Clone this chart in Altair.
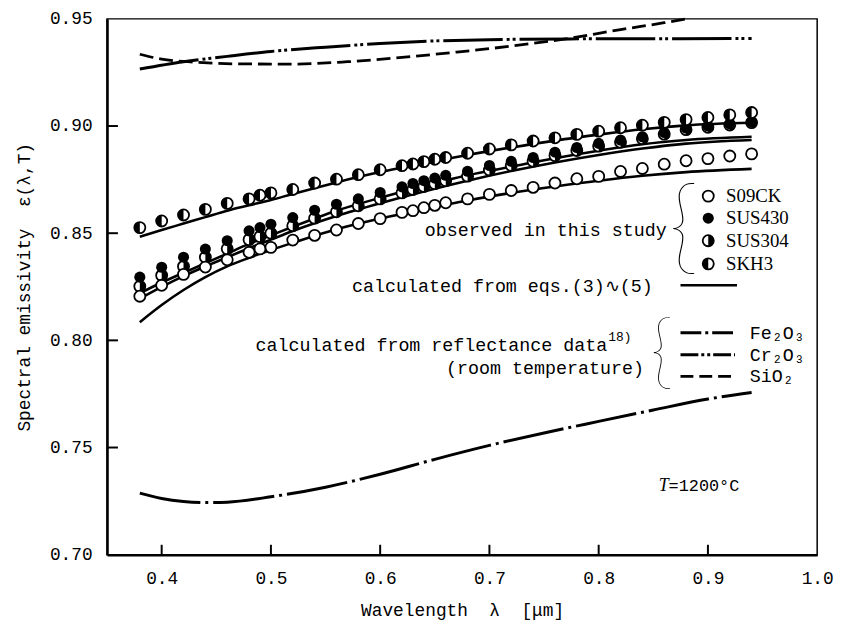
import altair as alt
import pandas as pd

# ---------------- data ----------------
lam = [0.38, 0.40, 0.42, 0.44, 0.46, 0.48, 0.49, 0.50, 0.52, 0.54, 0.56, 0.58, 0.60, 0.62, 0.63, 0.64,
       0.65, 0.66, 0.68, 0.70, 0.72, 0.74, 0.76, 0.78, 0.80, 0.82, 0.84, 0.86, 0.88, 0.90, 0.92, 0.94]
s09ck = [0.8206, 0.8257, 0.8308, 0.8342, 0.8376, 0.8411, 0.8427, 0.8434, 0.8468, 0.8490, 0.8515, 0.8545,
         0.8568, 0.8597, 0.8605, 0.8619, 0.8630, 0.8642, 0.8660, 0.8681, 0.8699, 0.8714, 0.8734, 0.8754,
         0.8765, 0.8788, 0.8802, 0.8822, 0.8838, 0.8848, 0.8860, 0.8870]
sus430 = [0.8295, 0.8341, 0.8388, 0.8426, 0.8465, 0.8511, 0.8526, 0.8542, 0.8573, 0.8607, 0.8635, 0.8660,
          0.8690, 0.8716, 0.8732, 0.8745, 0.8757, 0.8770, 0.8789, 0.8816, 0.8835, 0.8853, 0.8878, 0.8900,
          0.8919, 0.8935, 0.8950, 0.8970, 0.8990, 0.9000, 0.9010, 0.9020]
sus304 = [0.8252, 0.8303, 0.8345, 0.8388, 0.8427, 0.8470, 0.8484, 0.8500, 0.8535, 0.8570, 0.8600, 0.8628,
          0.8660, 0.8688, 0.8704, 0.8718, 0.8731, 0.8745, 0.8766, 0.8795, 0.8816, 0.8836, 0.8862, 0.8886,
          0.8906, 0.8924, 0.8941, 0.8962, 0.8983, 0.8994, 0.9005, 0.9016]
skh3 = [0.8526, 0.8557, 0.8585, 0.8611, 0.8639, 0.8660, 0.8677, 0.8688, 0.8704, 0.8734, 0.8752, 0.8773,
        0.8796, 0.8815, 0.8823, 0.8834, 0.8845, 0.8853, 0.8873, 0.8893, 0.8912, 0.8930, 0.8945, 0.8961,
        0.8976, 0.8992, 0.9004, 0.9017, 0.9030, 0.9040, 0.9052, 0.9063]

calc_lam = [0.38, 0.40, 0.42, 0.44, 0.46, 0.48, 0.50, 0.52, 0.56, 0.60, 0.64, 0.68, 0.72, 0.76, 0.80, 0.84, 0.88, 0.94]
calc_skh3 = [0.8483, 0.8515, 0.8545, 0.8575, 0.8605, 0.8630, 0.8655, 0.8683, 0.8737, 0.8785, 0.8825, 0.8865,
             0.8900, 0.8932, 0.8960, 0.8985, 0.9003, 0.9015]
calc_sus430 = [0.8220, 0.8270, 0.8315, 0.8360, 0.8405, 0.8450, 0.8490, 0.8530, 0.8605, 0.8665, 0.8720, 0.8770,
               0.8810, 0.8850, 0.8885, 0.8915, 0.8935, 0.8950]
calc_sus304 = [0.8195, 0.8250, 0.8300, 0.8345, 0.8388, 0.8430, 0.8470, 0.8510, 0.8580, 0.8640, 0.8695, 0.8745,
               0.8790, 0.8830, 0.8865, 0.8895, 0.8918, 0.8935]
calc_s09ck = [0.8085, 0.8165, 0.8235, 0.8295, 0.8345, 0.8385, 0.8422, 0.8455, 0.8518, 0.8568, 0.8612, 0.8653,
              0.8688, 0.8718, 0.8745, 0.8768, 0.8785, 0.8800]

fe_lam = [0.38, 0.40, 0.42, 0.44, 0.46, 0.50, 0.55, 0.60, 0.65, 0.70, 0.75, 0.80, 0.85, 0.90, 0.94]
fe2o3 = [0.7287, 0.7262, 0.7248, 0.7243, 0.7245, 0.7270, 0.7315, 0.7375, 0.7445, 0.7510, 0.7568, 0.7622,
         0.7675, 0.7726, 0.7757]
cr_lam = [0.38, 0.42, 0.46, 0.50, 0.55, 0.60, 0.65, 0.70, 0.80, 0.94]
cr2o3 = [0.9266, 0.9300, 0.9325, 0.9348, 0.9368, 0.9385, 0.9397, 0.9403, 0.9407, 0.9408]
si_lam = [0.38, 0.40, 0.43, 0.47, 0.52, 0.57, 0.62, 0.67, 0.72, 0.77, 0.82, 0.86, 0.88]
sio2 = [0.9335, 0.9312, 0.9298, 0.9290, 0.9289, 0.9300, 0.9320, 0.9345, 0.9373, 0.9407, 0.9450, 0.9482, 0.9500]

x_ticks = [0.4, 0.5, 0.6, 0.7, 0.8, 0.9, 1.0]
y_ticks = [0.70, 0.75, 0.80, 0.85, 0.90, 0.95]

# ---------------- styling ----------------
W, H = 717, 541
MONO = "Liberation Mono"
SERIF = "Liberation Serif"
xs = alt.Scale(domain=[0.35, 1.0], nice=False, zero=False)
ys = alt.Scale(domain=[0.70, 0.95], nice=False, zero=False)
X_AXIS = alt.Axis(values=x_ticks, format=".1f", ticks=False, grid=False, labelFlush=False,
                  labelPadding=15, titlePadding=14)
Y_AXIS = alt.Axis(values=y_ticks, format=".2f", ticks=False, grid=False,
                  labelPadding=15, titlePadding=16)
X_TITLE = "Wavelength\u00a0\u00a0λ\u00a0\u00a0[μm]"
Y_TITLE = "Spectral emissivity\u00a0\u00a0ε(λ,T)"
LEFT_HALF = "M0,-1A1,1,0,0,0,0,1Z"
RIGHT_HALF = "M0,-1A1,1,0,0,1,0,1Z"
MS = 125


def X(f="x"):
    return alt.X(f"{f}:Q", scale=xs, axis=X_AXIS, title=X_TITLE)


def Y(f="y"):
    return alt.Y(f"{f}:Q", scale=ys, axis=Y_AXIS, title=Y_TITLE)


def frame(xv, yv):
    return pd.DataFrame({"x": xv, "y": yv})


layers = []

# inward ticks
layers.append(alt.Chart(pd.DataFrame({"x": x_ticks[:-1]})).mark_rule(color="black", strokeWidth=2).encode(
    x=X(), y=alt.value(H), y2=alt.value(H - 10)))
layers.append(alt.Chart(pd.DataFrame({"y": y_ticks[1:-1]})).mark_rule(color="black", strokeWidth=2).encode(
    y=Y(), x=alt.value(0), x2=alt.value(11)))

# calculated curves
for vals in [calc_skh3, calc_sus430, calc_sus304, calc_s09ck]:
    layers.append(alt.Chart(frame(calc_lam, vals)).mark_line(
        color="black", strokeWidth=2.6, interpolate="monotone").encode(x=X(), y=Y()))

# oxide curves
layers.append(alt.Chart(frame(fe_lam, fe2o3)).mark_line(
    color="black", strokeWidth=3, interpolate="monotone", strokeDash=[62, 5, 3, 5]).encode(x=X(), y=Y()))
layers.append(alt.Chart(frame(cr_lam, cr2o3)).mark_line(
    color="black", strokeWidth=3, interpolate="monotone", strokeDash=[60, 4, 3, 3, 3, 4]).encode(x=X(), y=Y()))
layers.append(alt.Chart(frame(si_lam, sio2)).mark_line(
    color="black", strokeWidth=2.8, interpolate="monotone", strokeDash=[14, 6]).encode(x=X(), y=Y()))


def open_pts(df):
    return alt.Chart(df).mark_point(shape="circle", filled=True, fill="white", stroke="black",
                                    strokeWidth=1.8, size=MS, opacity=1).encode(x=X(), y=Y())


def full_pts(df):
    return alt.Chart(df).mark_point(shape="circle", filled=True, color="black", size=MS,
                                    opacity=1).encode(x=X(), y=Y())


def half_pts(df, path):
    return alt.Chart(df).mark_point(shape=path, filled=True, color="black", size=MS,
                                    opacity=1, strokeWidth=0).encode(x=X(), y=Y())


# observed points
layers += [open_pts(frame(lam, sus304)), half_pts(frame(lam, sus304), RIGHT_HALF)]
layers += [full_pts(frame(lam, sus430))]
layers += [open_pts(frame(lam, s09ck))]
layers += [open_pts(frame(lam, skh3)), half_pts(frame(lam, skh3), LEFT_HALF)]

# ---------------- legend / annotations ----------------
leg_x = 0.9003
leg_y = [0.8673, 0.8570, 0.8465, 0.8357]
layers.append(open_pts(frame([leg_x], [leg_y[0]])))
layers.append(full_pts(frame([leg_x], [leg_y[1]])))
layers += [open_pts(frame([leg_x], [leg_y[2]])), half_pts(frame([leg_x], [leg_y[2]]), RIGHT_HALF)]
layers += [open_pts(frame([leg_x], [leg_y[3]])), half_pts(frame([leg_x], [leg_y[3]]), LEFT_HALF)]

leg_names = pd.DataFrame({"x": [0.9166] * 4, "y": leg_y, "t": ["S09CK", "SUS430", "SUS304", "SKH3"]})
layers.append(alt.Chart(leg_names).mark_text(align="left", baseline="middle", font=SERIF, fontSize=19).encode(
    x=X(), y=Y(), text="t:N"))

mono_right = pd.DataFrame({
    "x": [0.8622, 0.8495, 0.8078, 0.8414],
    "y": [0.8516, 0.8252, 0.7980, 0.7873],
    "t": ["observed in this study", "calculated from eqs.(3)\u223f(5)",
          "calculated from reflectance data", "(room temperature)"],
})
layers.append(alt.Chart(mono_right).mark_text(align="right", baseline="middle", font=MONO, fontSize=18.5).encode(
    x=X(), y=Y(), text="t:N"))
layers.append(alt.Chart(pd.DataFrame({"x": [0.8088], "y": [0.8014], "t": ["18)"]})).mark_text(
    align="left", baseline="middle", font=MONO, fontSize=13).encode(x=X(), y=Y(), text="t:N"))

# braces
layers.append(alt.Chart(pd.DataFrame({"x": [0.8777], "y": [0.8516], "t": ["{"]})).mark_text(
    align="center", baseline="middle", font="Lato", fontWeight=100, fontSize=106).encode(x=X(), y=Y(), text="t:N"))
layers.append(alt.Chart(pd.DataFrame({"x": [0.8577], "y": [0.7933], "t": ["{"]})).mark_text(
    align="center", baseline="middle", font="Lato", fontWeight=100, fontSize=82).encode(x=X(), y=Y(), text="t:N"))

# legend line samples
layers.append(alt.Chart(frame([0.8749, 0.9266], [0.8257, 0.8257])).mark_line(
    color="black", strokeWidth=2.6).encode(x=X(), y=Y()))
layers.append(alt.Chart(frame([0.8749, 0.9248], [0.8035, 0.8035])).mark_line(
    color="black", strokeWidth=3, strokeDash=[21, 4, 3, 4]).encode(x=X(), y=Y()))
layers.append(alt.Chart(frame([0.8749, 0.9248], [0.7933, 0.7933])).mark_line(
    color="black", strokeWidth=3, strokeDash=[18, 3, 3, 3, 3, 3]).encode(x=X(), y=Y()))
layers.append(alt.Chart(frame([0.8749, 0.9248], [0.7832, 0.7832])).mark_line(
    color="black", strokeWidth=3, strokeDash=[13, 6]).encode(x=X(), y=Y()))

oxide_names = pd.DataFrame({"x": [0.9384] * 3, "y": [0.8035, 0.7933, 0.7832],
                            "t": ["Fe\u2082O\u2083", "Cr\u2082O\u2083", "SiO\u2082"]})
layers.append(alt.Chart(oxide_names).mark_text(align="left", baseline="middle", font=MONO, fontSize=18.5).encode(
    x=X(), y=Y(), text="t:N"))

# temperature label
layers.append(alt.Chart(pd.DataFrame({"x": [0.8550], "y": [0.7319], "t": ["T"]})).mark_text(
    align="left", baseline="middle", font=SERIF, fontStyle="italic", fontSize=18).encode(x=X(), y=Y(), text="t:N"))
layers.append(alt.Chart(pd.DataFrame({"x": [0.8640], "y": [0.7319], "t": ["=1200°C"]})).mark_text(
    align="left", baseline="middle", font=MONO, fontSize=17).encode(x=X(), y=Y(), text="t:N"))

chart = alt.layer(*layers).properties(
    width=W, height=H,
    autosize=alt.AutoSizeParams(type="none"),
    padding={"left": 100, "top": 8, "right": 18, "bottom": 66},
).configure_view(
    stroke="black", strokeWidth=1.5
).configure_axis(
    domainColor="black", domainWidth=2.5,
    labelFont=MONO, labelFontSize=18, labelColor="black",
    titleFont=MONO, titleFontSize=18, titleFontWeight="normal", titleColor="black",
)

chart.save("out.html", embed_options={"renderer": "svg", "actions": False})
